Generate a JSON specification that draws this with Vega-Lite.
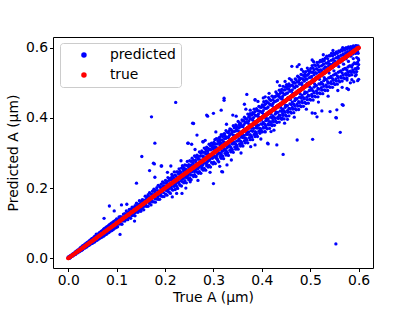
{
"$schema": "https://vega.github.io/schema/vega-lite/v6.json",
"width": 320, "height": 231,
"autosize": {"type": "none"},
"padding": {"left": 53, "top": 37, "right": 42, "bottom": 43},
"background": "white",
"config": {"font": "DejaVu Sans", "view": {"stroke": "black", "strokeWidth": 1}},
"data": {"values": [
{"t":0.000,"p":0.001},{"t":0.000,"p":0.004},{"t":0.003,"p":0.000},{"t":0.003,"p":0.006},{"t":0.005,"p":0.003},{"t":0.005,"p":0.008},{"t":0.008,"p":0.006},{"t":0.008,"p":0.011},{"t":0.010,"p":0.007},{"t":0.010,"p":0.013},
{"t":0.013,"p":0.010},{"t":0.013,"p":0.016},{"t":0.015,"p":0.011},{"t":0.015,"p":0.019},{"t":0.018,"p":0.015},{"t":0.018,"p":0.022},{"t":0.020,"p":0.016},{"t":0.020,"p":0.024},{"t":0.023,"p":0.019},{"t":0.023,"p":0.027},
{"t":0.025,"p":0.021},{"t":0.025,"p":0.030},{"t":0.028,"p":0.023},{"t":0.028,"p":0.033},{"t":0.030,"p":0.025},{"t":0.030,"p":0.036},{"t":0.033,"p":0.029},{"t":0.033,"p":0.038},{"t":0.035,"p":0.030},{"t":0.035,"p":0.041},
{"t":0.038,"p":0.032},{"t":0.038,"p":0.044},{"t":0.040,"p":0.035},{"t":0.040,"p":0.046},{"t":0.043,"p":0.037},{"t":0.043,"p":0.049},{"t":0.045,"p":0.039},{"t":0.045,"p":0.052},{"t":0.048,"p":0.042},{"t":0.048,"p":0.055},
{"t":0.050,"p":0.043},{"t":0.050,"p":0.057},{"t":0.053,"p":0.046},{"t":0.053,"p":0.060},{"t":0.055,"p":0.047},{"t":0.055,"p":0.063},{"t":0.058,"p":0.051},{"t":0.058,"p":0.066},{"t":0.058,"p":0.069},{"t":0.060,"p":0.052},{"t":0.060,"p":0.068},
{"t":0.063,"p":0.055},{"t":0.063,"p":0.071},{"t":0.065,"p":0.057},{"t":0.065,"p":0.074},{"t":0.068,"p":0.059},{"t":0.068,"p":0.077},{"t":0.070,"p":0.061},{"t":0.070,"p":0.079},{"t":0.073,"p":0.063},{"t":0.073,"p":0.083},
{"t":0.075,"p":0.066},{"t":0.075,"p":0.085},{"t":0.078,"p":0.068},{"t":0.078,"p":0.088},{"t":0.080,"p":0.070},{"t":0.080,"p":0.090},{"t":0.083,"p":0.073},{"t":0.083,"p":0.093},{"t":0.085,"p":0.075},{"t":0.085,"p":0.096},
{"t":0.088,"p":0.078},{"t":0.088,"p":0.099},{"t":0.090,"p":0.079},{"t":0.090,"p":0.101},{"t":0.093,"p":0.082},{"t":0.093,"p":0.104},{"t":0.095,"p":0.085},{"t":0.095,"p":0.106},{"t":0.098,"p":0.087},{"t":0.098,"p":0.109},{"t":0.100,"p":0.089},{"t":0.100,"p":0.112},
{"t":0.102,"p":0.090},{"t":0.102,"p":0.111},{"t":0.105,"p":0.098},{"t":0.105,"p":0.118},{"t":0.105,"p":0.109},{"t":0.108,"p":0.098},{"t":0.108,"p":0.119},{"t":0.111,"p":0.097},{"t":0.111,"p":0.117},
{"t":0.114,"p":0.108},{"t":0.114,"p":0.126},{"t":0.114,"p":0.111},{"t":0.117,"p":0.106},{"t":0.117,"p":0.127},{"t":0.120,"p":0.111},{"t":0.120,"p":0.135},{"t":0.123,"p":0.110},{"t":0.123,"p":0.131},{"t":0.123,"p":0.125},
{"t":0.126,"p":0.118},{"t":0.126,"p":0.139},{"t":0.129,"p":0.114},{"t":0.129,"p":0.140},{"t":0.132,"p":0.122},{"t":0.132,"p":0.146},{"t":0.132,"p":0.128},{"t":0.135,"p":0.123},{"t":0.135,"p":0.144},
{"t":0.138,"p":0.121},{"t":0.138,"p":0.150},{"t":0.141,"p":0.132},{"t":0.141,"p":0.157},{"t":0.141,"p":0.146},{"t":0.144,"p":0.131},{"t":0.144,"p":0.154},{"t":0.147,"p":0.136},{"t":0.147,"p":0.164},
{"t":0.150,"p":0.134},{"t":0.150,"p":0.162},{"t":0.150,"p":0.145},{"t":0.153,"p":0.141},{"t":0.153,"p":0.167},{"t":0.156,"p":0.138},{"t":0.156,"p":0.166},{"t":0.159,"p":0.149},{"t":0.159,"p":0.177},{"t":0.159,"p":0.165},
{"t":0.162,"p":0.148},{"t":0.162,"p":0.175},{"t":0.165,"p":0.148},{"t":0.165,"p":0.181},{"t":0.168,"p":0.156},{"t":0.168,"p":0.187},{"t":0.168,"p":0.162},{"t":0.171,"p":0.152},{"t":0.171,"p":0.183},
{"t":0.174,"p":0.161},{"t":0.174,"p":0.191},{"t":0.177,"p":0.161},{"t":0.177,"p":0.197},{"t":0.177,"p":0.181},{"t":0.180,"p":0.160},{"t":0.180,"p":0.194},{"t":0.183,"p":0.169},{"t":0.183,"p":0.201},
{"t":0.186,"p":0.168},{"t":0.186,"p":0.208},{"t":0.186,"p":0.179},{"t":0.189,"p":0.168},{"t":0.189,"p":0.204},{"t":0.192,"p":0.177},{"t":0.192,"p":0.211},{"t":0.195,"p":0.176},{"t":0.195,"p":0.218},{"t":0.195,"p":0.202},{"t":0.198,"p":0.176},{"t":0.198,"p":0.214},
{"t":0.101,"p":0.104},{"t":0.101,"p":0.097},{"t":0.107,"p":0.100},{"t":0.107,"p":0.113},{"t":0.113,"p":0.118},{"t":0.113,"p":0.106},{"t":0.119,"p":0.112},{"t":0.119,"p":0.124},{"t":0.125,"p":0.131},{"t":0.125,"p":0.117},
{"t":0.131,"p":0.124},{"t":0.131,"p":0.138},{"t":0.137,"p":0.143},{"t":0.137,"p":0.129},{"t":0.143,"p":0.135},{"t":0.143,"p":0.150},{"t":0.149,"p":0.156},{"t":0.149,"p":0.140},{"t":0.155,"p":0.146},{"t":0.155,"p":0.163},
{"t":0.161,"p":0.168},{"t":0.161,"p":0.151},{"t":0.167,"p":0.158},{"t":0.167,"p":0.176},{"t":0.173,"p":0.181},{"t":0.173,"p":0.163},{"t":0.179,"p":0.170},{"t":0.179,"p":0.189},{"t":0.185,"p":0.193},{"t":0.185,"p":0.175},
{"t":0.191,"p":0.182},{"t":0.191,"p":0.201},{"t":0.197,"p":0.206},{"t":0.197,"p":0.187},
{"t":0.201,"p":0.183},{"t":0.201,"p":0.222},{"t":0.201,"p":0.195},{"t":0.204,"p":0.180},{"t":0.204,"p":0.219},{"t":0.204,"p":0.212},{"t":0.206,"p":0.191},{"t":0.206,"p":0.230},{"t":0.206,"p":0.195},
{"t":0.209,"p":0.188},{"t":0.209,"p":0.227},{"t":0.209,"p":0.213},{"t":0.211,"p":0.185},{"t":0.211,"p":0.224},{"t":0.211,"p":0.203},{"t":0.214,"p":0.197},{"t":0.214,"p":0.239},{"t":0.214,"p":0.224},
{"t":0.216,"p":0.194},{"t":0.216,"p":0.235},{"t":0.216,"p":0.213},{"t":0.219,"p":0.205},{"t":0.219,"p":0.246},{"t":0.219,"p":0.226},{"t":0.221,"p":0.196},{"t":0.221,"p":0.237},{"t":0.221,"p":0.209},
{"t":0.224,"p":0.205},{"t":0.224,"p":0.246},{"t":0.224,"p":0.227},{"t":0.226,"p":0.199},{"t":0.226,"p":0.246},{"t":0.226,"p":0.219},{"t":0.229,"p":0.213},{"t":0.229,"p":0.255},{"t":0.229,"p":0.240},
{"t":0.231,"p":0.208},{"t":0.231,"p":0.248},{"t":0.231,"p":0.227},{"t":0.234,"p":0.206},{"t":0.234,"p":0.257},{"t":0.234,"p":0.240},{"t":0.236,"p":0.218},{"t":0.236,"p":0.264},{"t":0.236,"p":0.226},
{"t":0.239,"p":0.215},{"t":0.239,"p":0.258},{"t":0.239,"p":0.248},{"t":0.241,"p":0.221},{"t":0.241,"p":0.266},{"t":0.241,"p":0.236},{"t":0.244,"p":0.215},{"t":0.244,"p":0.265},{"t":0.244,"p":0.248},
{"t":0.246,"p":0.229},{"t":0.246,"p":0.276},{"t":0.246,"p":0.233},{"t":0.249,"p":0.224},{"t":0.249,"p":0.267},{"t":0.249,"p":0.257},{"t":0.251,"p":0.229},{"t":0.251,"p":0.278},{"t":0.251,"p":0.245},
{"t":0.254,"p":0.224},{"t":0.254,"p":0.276},{"t":0.254,"p":0.266},{"t":0.256,"p":0.237},{"t":0.256,"p":0.285},{"t":0.256,"p":0.247},{"t":0.259,"p":0.233},{"t":0.259,"p":0.279},{"t":0.259,"p":0.264},
{"t":0.261,"p":0.238},{"t":0.261,"p":0.292},{"t":0.261,"p":0.247},{"t":0.264,"p":0.233},{"t":0.264,"p":0.288},{"t":0.264,"p":0.274},{"t":0.266,"p":0.246},{"t":0.266,"p":0.294},{"t":0.266,"p":0.259},
{"t":0.269,"p":0.242},{"t":0.269,"p":0.290},{"t":0.269,"p":0.283},{"t":0.271,"p":0.247},{"t":0.271,"p":0.303},{"t":0.271,"p":0.260},{"t":0.274,"p":0.242},{"t":0.274,"p":0.299},{"t":0.274,"p":0.280},
{"t":0.276,"p":0.255},{"t":0.276,"p":0.306},{"t":0.276,"p":0.261},{"t":0.279,"p":0.251},{"t":0.279,"p":0.302},{"t":0.279,"p":0.290},{"t":0.281,"p":0.256},{"t":0.281,"p":0.314},{"t":0.281,"p":0.273},
{"t":0.284,"p":0.251},{"t":0.284,"p":0.310},{"t":0.284,"p":0.297},{"t":0.286,"p":0.264},{"t":0.286,"p":0.317},{"t":0.286,"p":0.270},{"t":0.289,"p":0.260},{"t":0.289,"p":0.313},{"t":0.289,"p":0.298},
{"t":0.291,"p":0.265},{"t":0.291,"p":0.325},{"t":0.291,"p":0.279},{"t":0.294,"p":0.260},{"t":0.294,"p":0.321},{"t":0.294,"p":0.309},{"t":0.296,"p":0.273},{"t":0.296,"p":0.328},{"t":0.296,"p":0.290},{"t":0.299,"p":0.269},{"t":0.299,"p":0.324},{"t":0.299,"p":0.311},
{"t":0.203,"p":0.214},{"t":0.203,"p":0.193},{"t":0.208,"p":0.222},{"t":0.208,"p":0.199},{"t":0.213,"p":0.204},{"t":0.213,"p":0.230},{"t":0.218,"p":0.228},{"t":0.218,"p":0.206},{"t":0.223,"p":0.234},{"t":0.223,"p":0.213},
{"t":0.228,"p":0.218},{"t":0.228,"p":0.241},{"t":0.233,"p":0.245},{"t":0.233,"p":0.221},{"t":0.238,"p":0.229},{"t":0.238,"p":0.252},{"t":0.243,"p":0.254},{"t":0.243,"p":0.231},{"t":0.248,"p":0.238},{"t":0.248,"p":0.262},
{"t":0.253,"p":0.263},{"t":0.253,"p":0.238},{"t":0.258,"p":0.249},{"t":0.258,"p":0.271},{"t":0.263,"p":0.252},{"t":0.263,"p":0.279},{"t":0.268,"p":0.283},{"t":0.268,"p":0.255},{"t":0.273,"p":0.266},{"t":0.273,"p":0.291},
{"t":0.278,"p":0.292},{"t":0.278,"p":0.266},{"t":0.283,"p":0.271},{"t":0.283,"p":0.302},{"t":0.288,"p":0.305},{"t":0.288,"p":0.276},{"t":0.293,"p":0.283},{"t":0.293,"p":0.311},{"t":0.298,"p":0.316},{"t":0.298,"p":0.285},
{"t":0.301,"p":0.274},{"t":0.301,"p":0.330},{"t":0.301,"p":0.291},{"t":0.301,"p":0.315},{"t":0.304,"p":0.270},{"t":0.304,"p":0.326},{"t":0.304,"p":0.309},
{"t":0.306,"p":0.285},{"t":0.306,"p":0.341},{"t":0.306,"p":0.290},{"t":0.306,"p":0.316},{"t":0.309,"p":0.279},{"t":0.309,"p":0.335},{"t":0.309,"p":0.311},
{"t":0.311,"p":0.275},{"t":0.311,"p":0.342},{"t":0.311,"p":0.299},{"t":0.311,"p":0.328},{"t":0.314,"p":0.290},{"t":0.314,"p":0.337},{"t":0.314,"p":0.322},
{"t":0.316,"p":0.285},{"t":0.316,"p":0.352},{"t":0.316,"p":0.298},{"t":0.316,"p":0.328},{"t":0.319,"p":0.291},{"t":0.319,"p":0.347},{"t":0.319,"p":0.315},
{"t":0.321,"p":0.284},{"t":0.321,"p":0.354},{"t":0.321,"p":0.332},{"t":0.321,"p":0.307},{"t":0.324,"p":0.299},{"t":0.324,"p":0.349},{"t":0.324,"p":0.328},
{"t":0.326,"p":0.294},{"t":0.326,"p":0.364},{"t":0.326,"p":0.307},{"t":0.326,"p":0.342},{"t":0.329,"p":0.300},{"t":0.329,"p":0.359},{"t":0.329,"p":0.322},
{"t":0.331,"p":0.293},{"t":0.331,"p":0.358},{"t":0.331,"p":0.344},{"t":0.331,"p":0.318},{"t":0.334,"p":0.308},{"t":0.334,"p":0.369},{"t":0.334,"p":0.336},
{"t":0.336,"p":0.303},{"t":0.336,"p":0.367},{"t":0.336,"p":0.316},{"t":0.336,"p":0.354},{"t":0.339,"p":0.309},{"t":0.339,"p":0.363},{"t":0.339,"p":0.331},
{"t":0.341,"p":0.302},{"t":0.341,"p":0.378},{"t":0.341,"p":0.351},{"t":0.341,"p":0.326},{"t":0.344,"p":0.317},{"t":0.344,"p":0.373},{"t":0.344,"p":0.349},
{"t":0.346,"p":0.311},{"t":0.346,"p":0.380},{"t":0.346,"p":0.325},{"t":0.346,"p":0.363},{"t":0.349,"p":0.318},{"t":0.349,"p":0.375},{"t":0.349,"p":0.346},
{"t":0.351,"p":0.311},{"t":0.351,"p":0.390},{"t":0.351,"p":0.363},{"t":0.351,"p":0.335},{"t":0.354,"p":0.326},{"t":0.354,"p":0.386},{"t":0.354,"p":0.360},
{"t":0.356,"p":0.320},{"t":0.356,"p":0.384},{"t":0.356,"p":0.334},{"t":0.356,"p":0.375},{"t":0.359,"p":0.327},{"t":0.359,"p":0.394},{"t":0.359,"p":0.350},
{"t":0.361,"p":0.320},{"t":0.361,"p":0.391},{"t":0.361,"p":0.375},{"t":0.361,"p":0.344},{"t":0.364,"p":0.335},{"t":0.364,"p":0.402},{"t":0.364,"p":0.367},
{"t":0.366,"p":0.329},{"t":0.366,"p":0.399},{"t":0.366,"p":0.343},{"t":0.366,"p":0.386},{"t":0.369,"p":0.336},{"t":0.369,"p":0.396},{"t":0.369,"p":0.359},
{"t":0.371,"p":0.329},{"t":0.371,"p":0.411},{"t":0.371,"p":0.386},{"t":0.371,"p":0.353},{"t":0.374,"p":0.344},{"t":0.374,"p":0.405},{"t":0.374,"p":0.381},
{"t":0.376,"p":0.338},{"t":0.376,"p":0.412},{"t":0.376,"p":0.352},{"t":0.376,"p":0.397},{"t":0.379,"p":0.345},{"t":0.379,"p":0.408},{"t":0.379,"p":0.373},
{"t":0.381,"p":0.338},{"t":0.381,"p":0.415},{"t":0.381,"p":0.394},{"t":0.381,"p":0.362},{"t":0.384,"p":0.353},{"t":0.384,"p":0.425},{"t":0.384,"p":0.388},
{"t":0.386,"p":0.347},{"t":0.386,"p":0.418},{"t":0.386,"p":0.361},{"t":0.386,"p":0.408},{"t":0.389,"p":0.354},{"t":0.389,"p":0.426},{"t":0.389,"p":0.378},
{"t":0.391,"p":0.347},{"t":0.391,"p":0.421},{"t":0.391,"p":0.407},{"t":0.391,"p":0.371},{"t":0.394,"p":0.362},{"t":0.394,"p":0.433},{"t":0.394,"p":0.402},
{"t":0.396,"p":0.356},{"t":0.396,"p":0.431},{"t":0.396,"p":0.370},{"t":0.396,"p":0.419},{"t":0.399,"p":0.363},{"t":0.399,"p":0.430},{"t":0.399,"p":0.394},
{"t":0.303,"p":0.318},{"t":0.303,"p":0.289},{"t":0.303,"p":0.338},{"t":0.308,"p":0.296},{"t":0.308,"p":0.326},{"t":0.308,"p":0.283},{"t":0.313,"p":0.331},{"t":0.313,"p":0.300},{"t":0.313,"p":0.345},
{"t":0.318,"p":0.305},{"t":0.318,"p":0.337},{"t":0.318,"p":0.292},{"t":0.323,"p":0.341},{"t":0.323,"p":0.311},{"t":0.323,"p":0.355},{"t":0.328,"p":0.315},{"t":0.328,"p":0.345},{"t":0.328,"p":0.302},
{"t":0.333,"p":0.350},{"t":0.333,"p":0.321},{"t":0.333,"p":0.364},{"t":0.338,"p":0.326},{"t":0.338,"p":0.357},{"t":0.338,"p":0.311},{"t":0.343,"p":0.361},{"t":0.343,"p":0.331},{"t":0.343,"p":0.372},
{"t":0.348,"p":0.334},{"t":0.348,"p":0.367},{"t":0.348,"p":0.322},{"t":0.353,"p":0.372},{"t":0.353,"p":0.340},{"t":0.353,"p":0.381},{"t":0.358,"p":0.345},{"t":0.358,"p":0.378},{"t":0.358,"p":0.331},
{"t":0.363,"p":0.381},{"t":0.363,"p":0.350},{"t":0.363,"p":0.392},{"t":0.368,"p":0.353},{"t":0.368,"p":0.388},{"t":0.368,"p":0.340},{"t":0.373,"p":0.391},{"t":0.373,"p":0.360},{"t":0.373,"p":0.402},
{"t":0.378,"p":0.364},{"t":0.378,"p":0.397},{"t":0.378,"p":0.349},{"t":0.383,"p":0.401},{"t":0.383,"p":0.370},{"t":0.383,"p":0.412},{"t":0.388,"p":0.372},{"t":0.388,"p":0.406},{"t":0.388,"p":0.359},
{"t":0.393,"p":0.411},{"t":0.393,"p":0.379},{"t":0.393,"p":0.420},{"t":0.398,"p":0.383},{"t":0.398,"p":0.417},{"t":0.398,"p":0.368},
{"t":0.401,"p":0.360},{"t":0.401,"p":0.437},{"t":0.401,"p":0.415},{"t":0.401,"p":0.382},{"t":0.404,"p":0.371},{"t":0.404,"p":0.446},{"t":0.404,"p":0.410},
{"t":0.406,"p":0.361},{"t":0.406,"p":0.438},{"t":0.406,"p":0.382},{"t":0.406,"p":0.428},{"t":0.409,"p":0.372},{"t":0.409,"p":0.448},{"t":0.409,"p":0.399},
{"t":0.411,"p":0.369},{"t":0.411,"p":0.445},{"t":0.411,"p":0.428},{"t":0.411,"p":0.393},{"t":0.414,"p":0.380},{"t":0.414,"p":0.458},{"t":0.414,"p":0.417},
{"t":0.416,"p":0.370},{"t":0.416,"p":0.453},{"t":0.416,"p":0.389},{"t":0.416,"p":0.440},{"t":0.419,"p":0.381},{"t":0.419,"p":0.450},{"t":0.419,"p":0.411},
{"t":0.421,"p":0.378},{"t":0.421,"p":0.462},{"t":0.421,"p":0.436},{"t":0.421,"p":0.400},{"t":0.424,"p":0.389},{"t":0.424,"p":0.460},{"t":0.424,"p":0.429},
{"t":0.426,"p":0.379},{"t":0.426,"p":0.459},{"t":0.426,"p":0.401},{"t":0.426,"p":0.446},{"t":0.429,"p":0.390},{"t":0.429,"p":0.474},{"t":0.429,"p":0.417},
{"t":0.431,"p":0.387},{"t":0.431,"p":0.469},{"t":0.431,"p":0.449},{"t":0.431,"p":0.415},{"t":0.434,"p":0.398},{"t":0.434,"p":0.466},{"t":0.434,"p":0.436},
{"t":0.436,"p":0.388},{"t":0.436,"p":0.479},{"t":0.436,"p":0.408},{"t":0.436,"p":0.461},{"t":0.439,"p":0.399},{"t":0.439,"p":0.474},{"t":0.439,"p":0.430},
{"t":0.441,"p":0.396},{"t":0.441,"p":0.481},{"t":0.441,"p":0.454},{"t":0.441,"p":0.419},{"t":0.444,"p":0.407},{"t":0.444,"p":0.490},{"t":0.444,"p":0.451},
{"t":0.446,"p":0.397},{"t":0.446,"p":0.480},{"t":0.446,"p":0.420},{"t":0.446,"p":0.467},{"t":0.449,"p":0.408},{"t":0.449,"p":0.488},{"t":0.449,"p":0.436},
{"t":0.451,"p":0.405},{"t":0.451,"p":0.495},{"t":0.451,"p":0.470},{"t":0.451,"p":0.434},{"t":0.454,"p":0.416},{"t":0.454,"p":0.490},{"t":0.454,"p":0.458},
{"t":0.456,"p":0.406},{"t":0.456,"p":0.497},{"t":0.456,"p":0.427},{"t":0.456,"p":0.482},{"t":0.459,"p":0.417},{"t":0.459,"p":0.492},{"t":0.459,"p":0.452},
{"t":0.461,"p":0.414},{"t":0.461,"p":0.508},{"t":0.461,"p":0.477},{"t":0.461,"p":0.438},{"t":0.464,"p":0.425},{"t":0.464,"p":0.502},{"t":0.464,"p":0.470},
{"t":0.466,"p":0.415},{"t":0.466,"p":0.501},{"t":0.466,"p":0.439},{"t":0.466,"p":0.488},{"t":0.469,"p":0.426},{"t":0.469,"p":0.511},{"t":0.469,"p":0.455},
{"t":0.471,"p":0.423},{"t":0.471,"p":0.508},{"t":0.471,"p":0.491},{"t":0.471,"p":0.453},{"t":0.474,"p":0.434},{"t":0.474,"p":0.519},{"t":0.474,"p":0.477},
{"t":0.476,"p":0.424},{"t":0.476,"p":0.516},{"t":0.476,"p":0.446},{"t":0.476,"p":0.503},{"t":0.479,"p":0.435},{"t":0.479,"p":0.513},{"t":0.479,"p":0.469},
{"t":0.481,"p":0.432},{"t":0.481,"p":0.524},{"t":0.481,"p":0.498},{"t":0.481,"p":0.457},{"t":0.484,"p":0.443},{"t":0.484,"p":0.522},{"t":0.484,"p":0.492},
{"t":0.486,"p":0.433},{"t":0.486,"p":0.532},{"t":0.486,"p":0.458},{"t":0.486,"p":0.509},{"t":0.489,"p":0.444},{"t":0.489,"p":0.525},{"t":0.489,"p":0.474},
{"t":0.491,"p":0.441},{"t":0.491,"p":0.532},{"t":0.491,"p":0.512},{"t":0.491,"p":0.472},{"t":0.494,"p":0.452},{"t":0.494,"p":0.542},{"t":0.494,"p":0.499},
{"t":0.496,"p":0.442},{"t":0.496,"p":0.535},{"t":0.496,"p":0.465},{"t":0.496,"p":0.524},{"t":0.499,"p":0.453},{"t":0.499,"p":0.534},{"t":0.499,"p":0.488},
{"t":0.403,"p":0.421},{"t":0.403,"p":0.387},{"t":0.403,"p":0.432},{"t":0.403,"p":0.373},{"t":0.408,"p":0.392},{"t":0.408,"p":0.427},{"t":0.408,"p":0.378},{"t":0.408,"p":0.440},
{"t":0.413,"p":0.431},{"t":0.413,"p":0.397},{"t":0.413,"p":0.443},{"t":0.413,"p":0.383},{"t":0.418,"p":0.402},{"t":0.418,"p":0.437},{"t":0.418,"p":0.388},{"t":0.418,"p":0.450},
{"t":0.423,"p":0.441},{"t":0.423,"p":0.406},{"t":0.423,"p":0.452},{"t":0.423,"p":0.393},{"t":0.428,"p":0.411},{"t":0.428,"p":0.447},{"t":0.428,"p":0.398},{"t":0.428,"p":0.461},
{"t":0.433,"p":0.451},{"t":0.433,"p":0.416},{"t":0.433,"p":0.463},{"t":0.433,"p":0.402},{"t":0.438,"p":0.420},{"t":0.438,"p":0.457},{"t":0.438,"p":0.407},{"t":0.438,"p":0.470},
{"t":0.443,"p":0.461},{"t":0.443,"p":0.425},{"t":0.443,"p":0.472},{"t":0.443,"p":0.412},{"t":0.448,"p":0.430},{"t":0.448,"p":0.467},{"t":0.448,"p":0.416},{"t":0.448,"p":0.480},
{"t":0.453,"p":0.471},{"t":0.453,"p":0.435},{"t":0.453,"p":0.483},{"t":0.453,"p":0.421},{"t":0.458,"p":0.440},{"t":0.458,"p":0.476},{"t":0.458,"p":0.426},{"t":0.458,"p":0.490},
{"t":0.463,"p":0.480},{"t":0.463,"p":0.445},{"t":0.463,"p":0.493},{"t":0.463,"p":0.430},{"t":0.468,"p":0.449},{"t":0.468,"p":0.486},{"t":0.468,"p":0.435},{"t":0.468,"p":0.499},
{"t":0.473,"p":0.490},{"t":0.473,"p":0.455},{"t":0.473,"p":0.502},{"t":0.473,"p":0.440},{"t":0.478,"p":0.459},{"t":0.478,"p":0.496},{"t":0.478,"p":0.444},{"t":0.478,"p":0.509},
{"t":0.483,"p":0.500},{"t":0.483,"p":0.464},{"t":0.483,"p":0.512},{"t":0.483,"p":0.449},{"t":0.488,"p":0.469},{"t":0.488,"p":0.505},{"t":0.488,"p":0.454},{"t":0.488,"p":0.518},
{"t":0.493,"p":0.510},{"t":0.493,"p":0.473},{"t":0.493,"p":0.521},{"t":0.493,"p":0.459},{"t":0.498,"p":0.478},{"t":0.498,"p":0.515},{"t":0.498,"p":0.463},{"t":0.498,"p":0.528},
{"t":0.501,"p":0.451},{"t":0.501,"p":0.541},{"t":0.501,"p":0.516},{"t":0.501,"p":0.479},{"t":0.504,"p":0.461},{"t":0.504,"p":0.549},{"t":0.504,"p":0.508},
{"t":0.506,"p":0.451},{"t":0.506,"p":0.542},{"t":0.506,"p":0.477},{"t":0.506,"p":0.530},{"t":0.509,"p":0.462},{"t":0.509,"p":0.551},{"t":0.509,"p":0.497},
{"t":0.511,"p":0.460},{"t":0.511,"p":0.549},{"t":0.511,"p":0.529},{"t":0.511,"p":0.491},{"t":0.514,"p":0.470},{"t":0.514,"p":0.558},{"t":0.514,"p":0.516},
{"t":0.516,"p":0.460},{"t":0.516,"p":0.551},{"t":0.516,"p":0.484},{"t":0.516,"p":0.537},{"t":0.519,"p":0.471},{"t":0.519,"p":0.559},{"t":0.519,"p":0.510},
{"t":0.521,"p":0.469},{"t":0.521,"p":0.564},{"t":0.521,"p":0.537},{"t":0.521,"p":0.496},{"t":0.524,"p":0.479},{"t":0.524,"p":0.561},{"t":0.524,"p":0.530},
{"t":0.526,"p":0.469},{"t":0.526,"p":0.567},{"t":0.526,"p":0.496},{"t":0.526,"p":0.551},{"t":0.529,"p":0.480},{"t":0.529,"p":0.563},{"t":0.529,"p":0.515},
{"t":0.531,"p":0.478},{"t":0.531,"p":0.570},{"t":0.531,"p":0.545},{"t":0.531,"p":0.510},{"t":0.534,"p":0.488},{"t":0.534,"p":0.576},{"t":0.534,"p":0.535},
{"t":0.536,"p":0.478},{"t":0.536,"p":0.569},{"t":0.536,"p":0.503},{"t":0.536,"p":0.556},{"t":0.539,"p":0.489},{"t":0.539,"p":0.577},{"t":0.539,"p":0.528},
{"t":0.541,"p":0.487},{"t":0.541,"p":0.577},{"t":0.541,"p":0.553},{"t":0.541,"p":0.515},{"t":0.544,"p":0.497},{"t":0.544,"p":0.584},{"t":0.544,"p":0.547},
{"t":0.546,"p":0.487},{"t":0.546,"p":0.577},{"t":0.546,"p":0.512},{"t":0.546,"p":0.565},{"t":0.549,"p":0.498},{"t":0.549,"p":0.584},{"t":0.549,"p":0.534},
{"t":0.551,"p":0.495},{"t":0.551,"p":0.581},{"t":0.551,"p":0.561},{"t":0.551,"p":0.524},{"t":0.554,"p":0.505},{"t":0.554,"p":0.588},{"t":0.554,"p":0.552},
{"t":0.556,"p":0.496},{"t":0.556,"p":0.584},{"t":0.556,"p":0.520},{"t":0.556,"p":0.572},{"t":0.559,"p":0.506},{"t":0.559,"p":0.591},{"t":0.559,"p":0.546},
{"t":0.561,"p":0.503},{"t":0.561,"p":0.588},{"t":0.561,"p":0.569},{"t":0.561,"p":0.532},{"t":0.564,"p":0.514},{"t":0.564,"p":0.594},{"t":0.564,"p":0.560},
{"t":0.566,"p":0.505},{"t":0.566,"p":0.591},{"t":0.566,"p":0.528},{"t":0.566,"p":0.579},{"t":0.569,"p":0.514},{"t":0.569,"p":0.598},{"t":0.569,"p":0.553},
{"t":0.571,"p":0.512},{"t":0.571,"p":0.593},{"t":0.571,"p":0.577},{"t":0.571,"p":0.540},{"t":0.574,"p":0.522},{"t":0.574,"p":0.600},{"t":0.574,"p":0.568},
{"t":0.576,"p":0.514},{"t":0.576,"p":0.596},{"t":0.576,"p":0.536},{"t":0.576,"p":0.586},{"t":0.579,"p":0.523},{"t":0.579,"p":0.602},{"t":0.579,"p":0.561},
{"t":0.581,"p":0.521},{"t":0.581,"p":0.598},{"t":0.581,"p":0.585},{"t":0.581,"p":0.548},{"t":0.584,"p":0.530},{"t":0.584,"p":0.603},{"t":0.584,"p":0.576},
{"t":0.586,"p":0.523},{"t":0.586,"p":0.600},{"t":0.586,"p":0.545},{"t":0.586,"p":0.593},{"t":0.589,"p":0.532},{"t":0.589,"p":0.605},{"t":0.589,"p":0.569},
{"t":0.591,"p":0.530},{"t":0.591,"p":0.602},{"t":0.591,"p":0.593},{"t":0.591,"p":0.557},{"t":0.594,"p":0.539},{"t":0.594,"p":0.606},{"t":0.594,"p":0.584},
{"t":0.596,"p":0.532},{"t":0.596,"p":0.605},{"t":0.596,"p":0.554},{"t":0.596,"p":0.572},{"t":0.599,"p":0.541},{"t":0.599,"p":0.605},{"t":0.599,"p":0.584},{"t":0.599,"p":0.569},
{"t":0.600,"p":0.552},{"t":0.600,"p":0.597},{"t":0.600,"p":0.565},
{"t":0.503,"p":0.518},{"t":0.503,"p":0.483},{"t":0.503,"p":0.530},{"t":0.503,"p":0.467},{"t":0.508,"p":0.488},{"t":0.508,"p":0.523},{"t":0.508,"p":0.472},{"t":0.508,"p":0.537},
{"t":0.513,"p":0.527},{"t":0.513,"p":0.492},{"t":0.513,"p":0.540},{"t":0.513,"p":0.477},{"t":0.518,"p":0.497},{"t":0.518,"p":0.531},{"t":0.518,"p":0.482},{"t":0.518,"p":0.546},
{"t":0.523,"p":0.536},{"t":0.523,"p":0.501},{"t":0.523,"p":0.548},{"t":0.523,"p":0.486},{"t":0.528,"p":0.506},{"t":0.528,"p":0.540},{"t":0.528,"p":0.490},{"t":0.528,"p":0.554},
{"t":0.533,"p":0.544},{"t":0.533,"p":0.510},{"t":0.533,"p":0.556},{"t":0.533,"p":0.494},{"t":0.538,"p":0.514},{"t":0.538,"p":0.548},{"t":0.538,"p":0.499},{"t":0.538,"p":0.561},
{"t":0.543,"p":0.552},{"t":0.543,"p":0.518},{"t":0.543,"p":0.564},{"t":0.543,"p":0.503},{"t":0.548,"p":0.522},{"t":0.548,"p":0.556},{"t":0.548,"p":0.507},{"t":0.548,"p":0.568},
{"t":0.553,"p":0.559},{"t":0.553,"p":0.526},{"t":0.553,"p":0.571},{"t":0.553,"p":0.511},{"t":0.558,"p":0.530},{"t":0.558,"p":0.563},{"t":0.558,"p":0.515},{"t":0.558,"p":0.575},
{"t":0.563,"p":0.566},{"t":0.563,"p":0.534},{"t":0.563,"p":0.578},{"t":0.563,"p":0.518},{"t":0.568,"p":0.538},{"t":0.568,"p":0.570},{"t":0.568,"p":0.522},{"t":0.568,"p":0.582},
{"t":0.573,"p":0.573},{"t":0.573,"p":0.541},{"t":0.573,"p":0.585},{"t":0.573,"p":0.526},{"t":0.578,"p":0.545},{"t":0.578,"p":0.576},{"t":0.578,"p":0.530},{"t":0.578,"p":0.589},
{"t":0.583,"p":0.579},{"t":0.583,"p":0.548},{"t":0.583,"p":0.591},{"t":0.583,"p":0.533},{"t":0.588,"p":0.552},{"t":0.588,"p":0.582},{"t":0.588,"p":0.537},{"t":0.588,"p":0.595},
{"t":0.593,"p":0.585},{"t":0.593,"p":0.555},{"t":0.593,"p":0.597},{"t":0.593,"p":0.540},{"t":0.598,"p":0.559},{"t":0.598,"p":0.588},{"t":0.598,"p":0.544},{"t":0.598,"p":0.600},
{"t":0.205,"p":0.245},{"t":0.215,"p":0.175},{"t":0.233,"p":0.278},{"t":0.243,"p":0.200},{"t":0.262,"p":0.310},{"t":0.268,"p":0.222},{"t":0.283,"p":0.336},{"t":0.293,"p":0.245},
{"t":0.305,"p":0.360},{"t":0.313,"p":0.262},{"t":0.327,"p":0.382},{"t":0.337,"p":0.280},{"t":0.347,"p":0.405},{"t":0.357,"p":0.300},{"t":0.367,"p":0.425},{"t":0.377,"p":0.318},
{"t":0.392,"p":0.447},{"t":0.398,"p":0.340},{"t":0.415,"p":0.470},{"t":0.425,"p":0.365},{"t":0.437,"p":0.492},{"t":0.447,"p":0.385},{"t":0.457,"p":0.512},{"t":0.467,"p":0.402},
{"t":0.482,"p":0.538},{"t":0.492,"p":0.425},{"t":0.507,"p":0.560},{"t":0.517,"p":0.445},{"t":0.527,"p":0.580},{"t":0.537,"p":0.462},{"t":0.547,"p":0.592},{"t":0.557,"p":0.478},
{"t":0.567,"p":0.600},{"t":0.583,"p":0.500},{"t":0.593,"p":0.520},
{"t":0.222,"p":0.444},{"t":0.172,"p":0.403},{"t":0.179,"p":0.328},{"t":0.152,"p":0.290},{"t":0.259,"p":0.384},{"t":0.288,"p":0.405},{"t":0.247,"p":0.328},{"t":0.255,"p":0.325},
{"t":0.266,"p":0.351},{"t":0.279,"p":0.332},{"t":0.322,"p":0.456},{"t":0.322,"p":0.450},{"t":0.369,"p":0.467},{"t":0.300,"p":0.413},{"t":0.316,"p":0.422},{"t":0.364,"p":0.439},
{"t":0.386,"p":0.451},{"t":0.432,"p":0.503},{"t":0.473,"p":0.546},{"t":0.504,"p":0.565},{"t":0.576,"p":0.508},{"t":0.600,"p":0.510},{"t":0.590,"p":0.503},{"t":0.566,"p":0.487},
{"t":0.579,"p":0.481},{"t":0.568,"p":0.436},{"t":0.555,"p":0.423},{"t":0.553,"p":0.401},{"t":0.541,"p":0.418},{"t":0.524,"p":0.420},{"t":0.510,"p":0.413},{"t":0.514,"p":0.403},
{"t":0.562,"p":0.359},{"t":0.505,"p":0.339},{"t":0.473,"p":0.337},{"t":0.444,"p":0.296},{"t":0.431,"p":0.323},{"t":0.413,"p":0.326},{"t":0.386,"p":0.323},{"t":0.419,"p":0.361},
{"t":0.453,"p":0.396},{"t":0.442,"p":0.399},{"t":0.300,"p":0.213},{"t":0.319,"p":0.246},{"t":0.328,"p":0.266},{"t":0.553,"p":0.041},{"t":0.178,"p":0.269},{"t":0.192,"p":0.263},
{"t":0.212,"p":0.263},{"t":0.141,"p":0.214},{"t":0.168,"p":0.250},{"t":0.085,"p":0.149},{"t":0.095,"p":0.135},{"t":0.121,"p":0.154},{"t":0.110,"p":0.152},{"t":0.074,"p":0.114},
{"t":0.107,"p":0.068},{"t":0.137,"p":0.106},{"t":0.224,"p":0.185},{"t":0.235,"p":0.185},{"t":0.252,"p":0.218},{"t":0.257,"p":0.385},{"t":0.286,"p":0.408},{"t":0.340,"p":0.408},
{"t":0.407,"p":0.460},{"t":0.376,"p":0.422},{"t":0.317,"p":0.247},{"t":0.412,"p":0.328},{"t":0.176,"p":0.271},{"t":0.179,"p":0.231},{"t":0.248,"p":0.328},{"t":0.278,"p":0.332},
{"t":0.193,"p":0.263},{"t":0.421,"p":0.381},{"t":0.407,"p":0.360},{"t":0.554,"p":0.400},{"t":0.566,"p":0.438},{"t":0.504,"p":0.414},{"t":0.576,"p":0.484},{"t":0.586,"p":0.509},
{"t":0.598,"p":0.506},{"t":0.595,"p":0.523},{"t":0.477,"p":0.552},{"t":0.462,"p":0.547},{"t":0.448,"p":0.504},{"t":0.403,"p":0.457},{"t":0.386,"p":0.452}
]},
"layer": [
{
"mark": {"type": "circle", "size": 11, "opacity": 1},
"encoding": {
"x": {"field": "t", "type": "quantitative", "scale": {"domain": [-0.0315, 0.6297], "nice": false, "zero": false},
 "axis": {"title": "True A (μm)", "values": [0, 0.1, 0.2, 0.3, 0.4, 0.5, 0.6], "format": ".1f", "grid": false, "domain": false, "tickColor": "black", "tickSize": 3.5, "tickWidth": 1, "labelPadding": 2, "labelFontSize": 13.9, "labelColor": "black", "labelFlush": false, "labelOverlap": false, "titleFontSize": 13.9, "titleFontWeight": "normal", "titleColor": "black", "titlePadding": 3}},
"y": {"field": "p", "type": "quantitative", "scale": {"domain": [-0.0276, 0.6305], "nice": false, "zero": false},
 "axis": {"title": "Predicted A (μm)", "values": [0, 0.1, 0.2, 0.3, 0.4, 0.5, 0.6], "format": ".1f", "grid": false, "domain": false, "tickColor": "black", "tickSize": 3.5, "tickWidth": 1, "labelPadding": 2, "labelFontSize": 13.9, "labelColor": "black", "labelFlush": false, "labelOverlap": false, "titleFontSize": 13.9, "titleFontWeight": "normal", "titleColor": "black", "titlePadding": 5}},
"color": {"datum": "predicted", "type": "nominal", "scale": {"domain": ["predicted", "true"], "range": ["#0000ff", "#ff0000"]},
 "legend": {"title": null, "orient": "none", "legendX": 7, "legendY": 6, "padding": 5, "symbolType": "circle", "symbolSize": 30, "symbolStrokeWidth": 0, "symbolOpacity": 1, "symbolOffset": 12, "labelOffset": 19, "labelFontSize": 13.9, "labelColor": "black", "rowPadding": 5, "strokeColor": "#cccccc", "fillColor": "rgba(255,255,255,0.8)", "cornerRadius": 3}}
}
},
{
"mark": {"type": "circle", "size": 16, "opacity": 1},
"encoding": {
"x": {"field": "t", "type": "quantitative", "title": "True A (μm)"},
"y": {"field": "t", "type": "quantitative", "title": "Predicted A (μm)"},
"color": {"datum": "true", "type": "nominal"}
}
}
]
}
